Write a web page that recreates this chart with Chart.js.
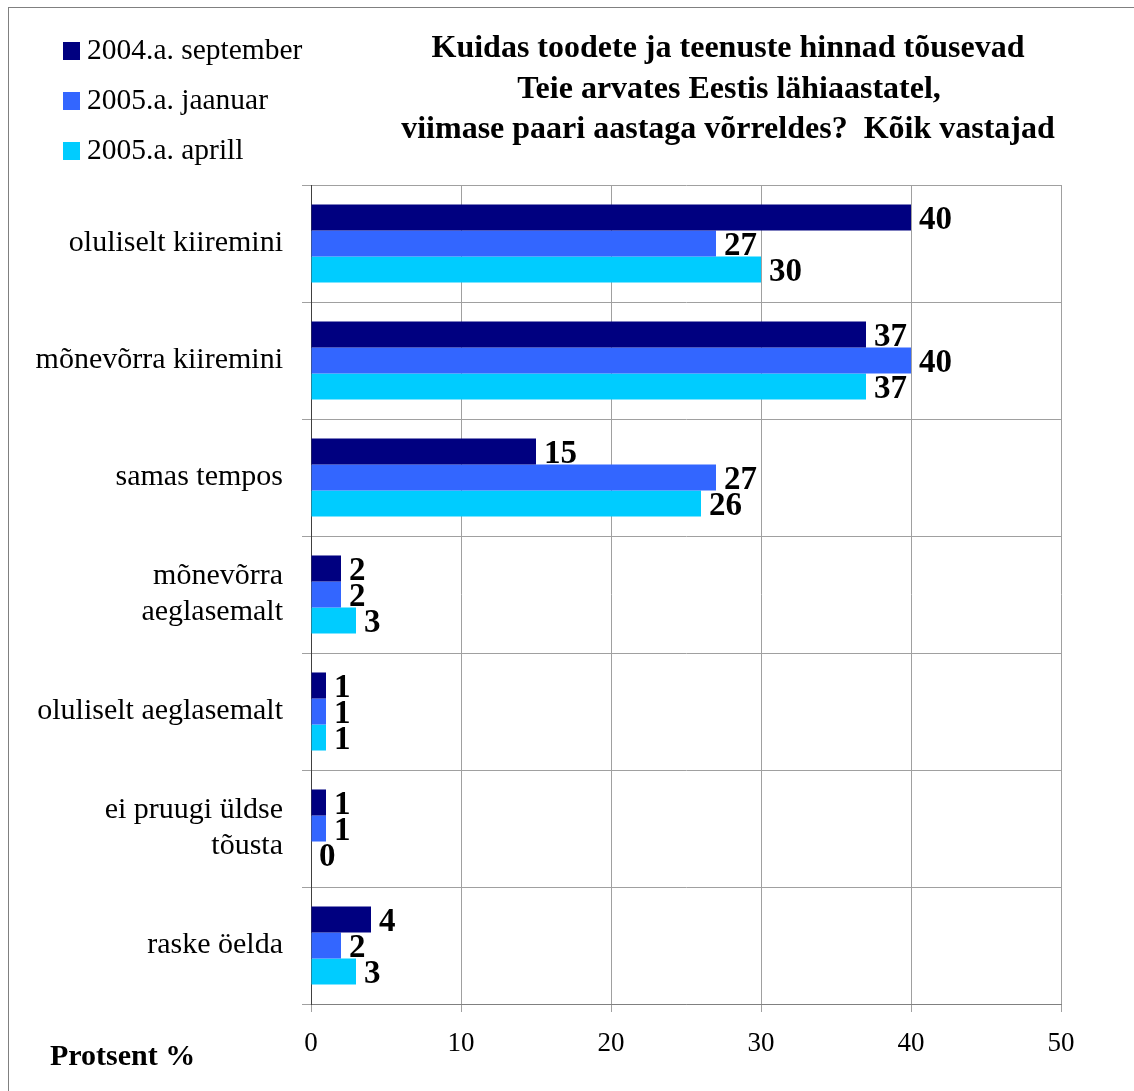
<!DOCTYPE html>
<html>
<head>
<meta charset="utf-8">
<script src="https://cdn.jsdelivr.net/npm/chart.js@4.4.0/dist/chart.umd.min.js"></script>
<style>
  html, body { margin: 0; padding: 0; background: #fff; }
  #wrap { width: 1134px; height: 1091px; position: relative; }
</style>
</head>
<body>
<div id="wrap"><canvas id="chart" width="1134" height="1091"></canvas></div>
<script>
// Data
const categories = [
  "oluliselt kiiremini",
  "mõnevõrra kiiremini",
  "samas tempos",
  ["mõnevõrra", "aeglasemalt"],
  "oluliselt aeglasemalt",
  ["ei pruugi üldse", "tõusta"],
  "raske öelda"
];
const seriesNames = ["2004.a. september", "2005.a. jaanuar", "2005.a. aprill"];
const sept2004 = [40, 37, 15, 2, 1, 1, 4];
const jan2005 = [27, 40, 27, 2, 1, 1, 2];
const apr2005 = [30, 37, 26, 3, 1, 0, 3];
const colors = ["#000080", "#3366FF", "#00CCFF"];
const titleLines = [
  "Kuidas toodete ja teenuste hinnad tõusevad",
  "Teie arvates Eestis lähiaastatel,",
  "viimase paari aastaga võrreldes?  Kõik vastajad"
];
const axisTitle = "Protsent %";

const serif = "'Liberation Serif', 'Times New Roman', serif";

// Draws title, legend, frame and the value labels
const decor = {
  id: "decor",
  beforeDraw: (chart) => {
    const { ctx } = chart;
    ctx.save();
    ctx.fillStyle = "#fff";
    ctx.fillRect(0, 0, chart.width, chart.height);
    ctx.strokeStyle = "#808080";
    ctx.lineWidth = 1;
    ctx.strokeRect(8.5, 7.5, 3000, 3000);
    ctx.restore();
  },
  afterDatasetsDraw: (chart) => {
    const { ctx } = chart;
    ctx.save();
    ctx.fillStyle = "#000";
    ctx.font = "bold 33px " + serif;
    ctx.textBaseline = "middle";
    ctx.textAlign = "left";
    chart.data.datasets.forEach((ds, i) => {
      const meta = chart.getDatasetMeta(i);
      meta.data.forEach((bar, j) => {
        ctx.fillText(String(ds.data[j]), bar.x + 8, bar.y + 3);
      });
    });
    ctx.restore();
  },
  afterDraw: (chart) => {
    const { ctx } = chart;
    ctx.save();
    // title
    ctx.fillStyle = "#000";
    ctx.font = "bold 32px " + serif;
    ctx.textAlign = "center";
    ctx.textBaseline = "middle";
    const cx = [728, 729, 728];
    const cy = [49, 90, 130];
    titleLines.forEach((t, i) => ctx.fillText(t, cx[i], cy[i]));
    // legend
    ctx.textAlign = "left";
    ctx.font = "29.5px " + serif;
    seriesNames.forEach((name, i) => {
      const y = 51 + i * 50;
      ctx.fillStyle = colors[i];
      ctx.fillRect(63, y - 9, 17, 18);
      ctx.fillStyle = "#000";
      ctx.fillText(name, 87, y);
    });
    // axis caption
    ctx.font = "bold 30px " + serif;
    ctx.fillText(axisTitle, 50, 1057);
    ctx.restore();
  }
};

const ctx = document.getElementById("chart");
const myChart = new Chart(ctx, {
  type: "bar",
  data: {
    labels: categories,
    datasets: [
      { label: seriesNames[0], data: sept2004, backgroundColor: colors[0] },
      { label: seriesNames[1], data: jan2005, backgroundColor: colors[1] },
      { label: seriesNames[2], data: apr2005, backgroundColor: colors[2] }
    ]
  },
  options: {
    indexAxis: "y",
    responsive: false,
    animation: false,
    devicePixelRatio: 1,
    categoryPercentage: 0.667,
    barPercentage: 1,
    layout: { padding: { top: 185, right: 73, left: 0, bottom: 0 } },
    scales: {
      x: {
        min: 0,
        max: 50,
        ticks: {
          stepSize: 10,
          color: "#000",
          font: { family: serif, size: 27 },
          padding: 16
        },
        grid: { color: "#a0a0a0", tickLength: 8 },
        border: { color: "#808080" },
        afterFit: (scale) => { scale.height = 87; }
      },
      y: {
        ticks: {
          color: "#000",
          font: { family: serif, size: 30, lineHeight: 1.2 },
          padding: 19
        },
        grid: { color: "#a0a0a0", tickLength: 9, offset: true },
        border: { color: "#404040" },
        afterFit: (scale) => { scale.width = 311; }
      }
    },
    plugins: {
      legend: { display: false },
      title: { display: false },
      tooltip: { enabled: false }
    }
  },
  plugins: [decor]
});
</script>
</body>
</html>
